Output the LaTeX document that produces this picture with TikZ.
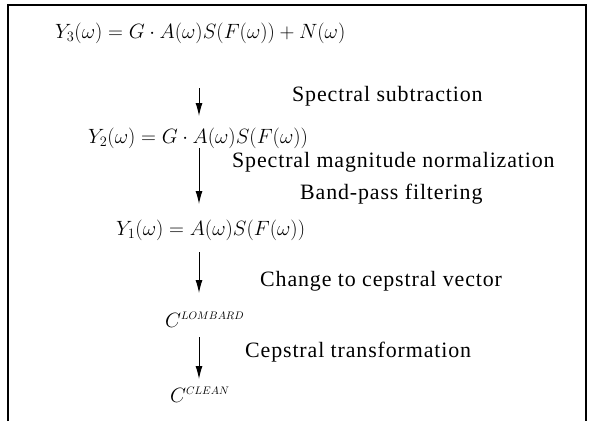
\documentclass[tikz,border=0pt]{standalone}
\usepackage{fontspec}
\setmainfont{Liberation Serif}[LetterSpace=4]
\usetikzlibrary{arrows.meta}
\begin{document}
\begin{tikzpicture}[x=1bp,y=-1bp,
  lbl/.style={anchor=west,inner sep=0pt,font=\fontsize{22}{26}\selectfont},
  eq/.style={anchor=west,inner sep=0pt,font=\fontsize{22.5}{26}\selectfont},
  arr/.style={line width=1bp,-{Latex[length=13bp,width=7bp]}},
  frame/.style={line width=1.3bp}]
\useasboundingbox (0,0) rectangle (594,421);
\draw[frame] (8,421) -- (8,5) -- (586,5) -- (586,421);
\node[eq] (y3) at (55,33) {$Y_3(\omega)=G\cdot A(\omega)S(F(\omega))+N(\omega)$};
\node[lbl] (t1) at (292,96) {Spectral subtraction};
\node[eq] (y2) at (88,138) {$Y_2(\omega)=G\cdot A(\omega)S(F(\omega))$};
\node[lbl] (t2) at (232,162) {Spectral magnitude normalization};
\node[lbl] (t3) at (300,194) {Band-pass filtering};
\node[eq] (y1) at (116,230) {$Y_1(\omega)=A(\omega)S(F(\omega))$};
\node[lbl] (t4) at (260,281) {Change to cepstral vector};
\node[eq] (cl) at (165,320) {$C^{\scriptscriptstyle LOMBARD}$};
\node[lbl] (t5) at (245,352) {Cepstral transformation};
\node[eq] (cc) at (170,395) {$C^{\scriptscriptstyle CLEAN}$};
\coordinate (a1s) at (199,88); \coordinate (a1e) at (199,116);
\coordinate (a2s) at (199,148); \coordinate (a2e) at (199,204);
\coordinate (a3s) at (199,252); \coordinate (a3e) at (199,293);
\coordinate (a4s) at (199,337); \coordinate (a4e) at (199,379);
\draw[arr] (a1s) -- (a1e);
\draw[arr] (a2s) -- (a2e);
\draw[arr] (a3s) -- (a3e);
\draw[arr] (a4s) -- (a4e);
\end{tikzpicture}
\end{document}
